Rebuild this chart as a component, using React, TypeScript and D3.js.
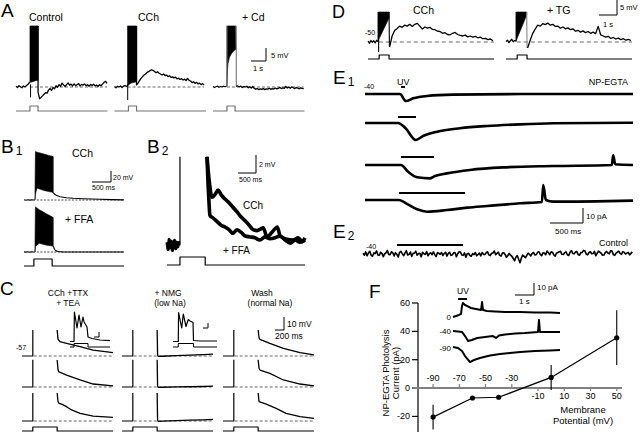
import React from 'react';
import * as d3 from 'd3';

type P = [number, number];
type B = [number, number, number];

const FONT = "'Liberation Sans', Arial, Helvetica, sans-serif";
const ser = (t0: number, dt: number, vals: number[]): P[] => vals.map((v, i) => [t0 + i * dt, v] as P);
const stimPts = (on: number, off: number, end: number, start = 0): P[] => [[start, 0], [on, 0], [on, 1], [off, 1], [off, 0], [end, 0]];

// ===== Panel A (s, mV) =====
const aConditions = ['Control', 'CCh', '+ Cd'];
const aPulse: P = [0.93, 1.47];
const aControlPre = [0.3, -0.2, 0.5, 0.1, -0.3, 0.4, 0.0, 0.6, 1.0, 1.8];
const aControlBurst: B[] = [[0.93, 1.8, 23.5], [1.1, 2.0, 23.5], [1.3, 2.4, 23.5], [1.47, 2.6, 23.5]];
const aControlDown: P = [0.97, -4.0];
const aControlPost = [-2.0, -4.5, -4.0, -3.4, -2.8, -2.2, -2.4, -1.2, -0.6, -1.3, -0.2, -0.7, 0.5, -0.1, 0.9, 0.3, 1.5, 0.8, 0.2, 0.9, 1.6, 0.7, 1.1, 0.4, 1.2, 0.5, 0.9, 1.3, 0.4, 1.0, 0.7, 1.2, 0.5, 0.9, 0.3, 1.0, 0.6, 1.1, 0.4, 0.8, 0.2, 0.9, 0.5, 1.1, 1.8, 2.2, 1.4];
const aCChPre = [0.2, -0.3, 0.3, 0.0, 0.4, -0.2, 0.3, 0.5, 0.2];
const aCChBurst: B[] = [[0.87, 0.5, 23.5], [1.1, 1.5, 23.5], [1.47, 2.0, 23.5]];
const aCChDown: P = [0.88, -5.0];
const aCChPost = [0.8, 1.5, 2.5, 3.3, 4.0, 4.6, 5.0, 5.6, 5.9, 6.3, 6.6, 6.4, 6.0, 5.5, 5.9, 5.3, 5.0, 4.6, 5.0, 4.4, 4.6, 4.0, 4.3, 3.7, 3.9, 3.5, 3.8, 3.1, 3.4, 2.9, 3.2, 2.7, 3.0, 2.5, 3.3, 2.6, 2.3, 1.7, 2.0, 1.4, 1.8, 1.2, 1.5, 0.9, 1.3, 0.8];
const aCdPre = [0.2, -0.2, 0.1, 0.3, -0.1, 0.2, 0.0, 0.3, 0.1, 0.4];
const aCdBurst: B[] = [[0.93, 0.5, 23.5], [0.96, 6, 23.5], [1.0, 9, 23.5], [1.1, 11.5, 23.5], [1.25, 13, 23.5], [1.4, 14, 23.5], [1.53, 14.5, 23.5]];
const aCdPost = [0.2, 0.4, 0.1, 0.3, -0.2, 0.2, 0.0, 0.3, -0.3, 0.1, -0.4, 0.2, -0.5, -0.8, -0.6, -1.0, -0.7, -0.9, -0.6, -1.0, -0.7, -0.8, -0.5, -0.9, -0.6, -0.8, -0.4, -0.7, -0.5, -0.2, -0.6, -0.3, -0.5, 0.2, -0.4, -0.1, -0.5, 0.0, -0.3, -0.6, -0.2, -0.4, -0.7, -0.3, -0.5, -0.6];

// ===== Panel B1 (s, mV) =====
const b1Pulse: P = [0.26, 0.74];
const b1CChPre = [0.5, -0.3, 0.4, -0.2, 0.3, 0.0];
const b1CChBurst: B[] = [[0.29, 0, 20], [0.3, 10, 88], [0.34, 22, 87], [0.45, 19, 85], [0.55, 17, 83], [0.65, 15.5, 81], [0.76, 14, 79]];
const b1CChPost: P[] = [[0.76, 14], [0.8, 11], [0.86, 8], [0.95, 6], [1.12, 4.2], [1.3, 3.2], [1.55, 2.4], [1.8, 1.8], [2.0, 1.3], [2.3, 0.7], [2.63, 0.2]];
const b1FFAPre = [0.3, -0.2, 0.4, -0.3, 0.2, 0.0];
const b1FFABurst: B[] = [[0.29, 0, 20], [0.3, 10, 82], [0.4, 16, 77], [0.5, 14, 73], [0.6, 12.5, 69], [0.7, 11.5, 65.5], [0.76, 11, 63]];
const b1FFAPost: P[] = [[0.76, 11], [0.78, 9], [0.8, 5], [0.84, 2], [0.9, 0.8], [1.0, 0.3], [1.3, 0.1], [2.63, 0]];

// ===== Panel B2 (s, mV) =====
const b2Pulse: P = [0.36, 1.06];
const b2Pre = [0.3, -0.5, 0.6, -0.3, 0.4, -0.6, 0.2, 0.5, -0.4, 0.3, -0.2, 0.4];
const b2CCh: P[] = [[1.11, 9.8], [1.17, 7.2], [1.25, 5.3], [1.33, 5.6], [1.42, 6.1], [1.5, 5.6], [1.61, 5.1], [1.72, 4.7], [1.83, 4.2], [1.94, 3.7], [2.06, 3.1], [2.17, 2.7], [2.28, 2.2], [2.39, 1.7], [2.5, 1.6], [2.61, 1.8], [2.67, 1.9], [2.78, 0.9], [2.89, 1.3], [3.0, 1.8], [3.06, 2.0], [3.14, 1.0], [3.22, 0.8], [3.36, 0.6], [3.5, 0.55], [3.64, 0.8], [3.75, 0.4], [3.83, 0.8]];
const b2FFA: P[] = [[1.11, 9.8], [1.14, 6.7], [1.17, 4.4], [1.19, 3.3], [1.28, 3.0], [1.39, 2.6], [1.5, 2.2], [1.61, 2.0], [1.72, 1.7], [1.83, 1.3], [1.94, 1.7], [2.06, 1.4], [2.17, 1.0], [2.31, 0.9], [2.44, 0.8], [2.58, 0.55], [2.72, 0.9], [2.86, 0.7], [3.0, 0.8], [3.14, 1.0], [3.28, 0.55], [3.42, 0.2], [3.56, 0.55], [3.69, 0.3], [3.83, 0.55]];

// ===== Panel C (s, mV) =====
const cHeaders = [['CCh +TTX', '+ TEA'], ['+ NMG', '(low Na)'], ['Wash', '(normal Na)']];
const cPulse: P = [0.24, 0.78];
const cSpike = [20, 21, 21.5];
const cCol1: P[][] = [
  [[0.78, 20], [0.8, 13], [0.84, 11], [0.99, 9.7], [1.29, 7.2], [1.58, 4.6], [2.02, 2.6]],
  [[0.78, 20.8], [0.8, 13.5], [0.81, 11.8], [0.99, 9.2], [1.29, 5.4], [1.58, 2.3], [2.02, 0.8]],
  [[0.78, 21.5], [0.8, 15], [0.82, 13.6], [0.88, 13], [0.99, 11], [1.1, 8.5], [1.29, 5.9], [1.58, 3.8], [2.02, 2.8]],
];
const cCol2: P[][] = [
  [[0.78, 20], [0.79, 1], [0.8, -0.3], [0.9, -0.2], [1.2, 0.3], [1.5, 0.6], [1.8, 1.0], [2.02, 1.4]],
  [[0.78, 21], [0.79, 1], [0.8, -0.3], [0.9, -0.2], [1.2, 0.1], [1.5, 0.2], [1.8, 0.4], [2.02, 0.6]],
  [[0.78, 21.5], [0.79, 1], [0.8, -0.3], [0.9, -0.1], [1.2, 0.3], [1.5, 0.6], [1.8, 0.9], [2.02, 1.2]],
];
const cCol3: P[][] = [
  [[0.78, 20], [0.8, 14], [0.82, 12.8], [1.04, 9.7], [1.34, 5.9], [1.71, 2.6], [2.02, 0.8]],
  [[0.78, 21], [0.8, 14.5], [0.82, 13], [1.04, 10.5], [1.34, 5.4], [1.71, 2.3], [2.02, 0.8]],
  [[0.78, 21.5], [0.8, 14.9], [0.96, 13], [1.18, 9.7], [1.4, 5.9], [1.71, 3.3], [2.02, 2]],
];
const cInset1: P[] = [[0, 0], [0.1, 0], [0.11, 29.5], [0.175, 13.5], [0.225, 26.5], [0.275, 14.5], [0.325, 24.5], [0.35, 19.5], [0.425, 14.5], [0.45, 4.5], [0.55, 3], [0.75, 1.5], [1.0, 0.8]];
const cInset1Pulse: P = [0.1, 0.45];
const cInset2: P[] = [[0, 0], [0.12, 0], [0.127, 29], [0.198, 13.5], [0.234, 27.5], [0.295, 15], [0.348, 22], [0.386, 20.5], [0.455, 19], [0.466, 1], [0.614, 0.5], [1.0, 0.5]];
const cInset2Pulse: P = [0.12, 0.466];

// ===== Panel D (s, mV) =====
const dConditions = ['CCh', '+ TG'];
const dPulse: P = [0.62, 1.17];
const dCChPre = [0.3, -0.4, 0.5, -0.1, 0.4, -0.3, 0.6, 0.2];
const dCChBurst: B[] = [[0.57, 0.5, 10], [1.17, 8, 10]];
const dCChDown: P = [0.59, -3.3];
const dCChPost = [-1.7, 2.0, 3.8, 4.5, 5.3, 4.9, 5.6, 5.3, 5.9, 5.2, 5.9, 6.2, 5.3, 4.3, 5.0, 4.6, 4.9, 4.2, 4.1, 3.6, 3.5, 2.9, 3.1, 2.5, 2.4, 2.9, 3.2, 2.5, 2.2, 2.0, 2.3, 1.7, 2.0, 1.6, 1.9, 1.4, 1.6, 1.1, 1.2, 0.8, 1.0, 0.4];
const dTGPre = [0.2, 0.6, -0.2, 0.4, 0.9, 0.1, 0.5, 0.3];
const dTGBurst: B[] = [[0.57, 0.5, 10], [1.15, 9, 10]];
const dTGPost = [-2.0, 0.5, 2.8, 4.3, 5.6, 5.3, 6.1, 5.8, 6.3, 5.6, 5.9, 5.2, 5.3, 4.6, 5.0, 4.4, 4.7, 4.1, 4.4, 3.6, 3.9, 3.3, 3.7, 3.1, 3.5, 2.9, 3.3, 2.8, 5.2, 2.4, 2.0, 1.6, 1.9, 1.2, 1.5, 1.0, 1.3, 0.8, 1.1, 0.6, 0.9, 0.5];

// ===== Panel E (s, pA) =====
const eUV: P[] = [[0.545, 0.606], [0.5, 0.773], [0.545, 1.045], [0.515, 1.515]];
const eUVLevel = [4.7, 4, 5.3, 4.7];
const e1Traces: P[][] = [
  [[0, 0], [0.53, 0], [0.62, -4.7], [0.73, -2.9], [0.94, -1.3], [1.33, -0.4], [2.35, 0], [4.06, 0]],
  [[0, 0], [0.5, 0], [0.61, -3.3], [0.77, -11.3], [0.88, -8.7], [1.09, -5.8], [1.44, -3.5], [1.85, -2], [2.35, -0.9], [2.85, -0.2], [4.06, 0.2]],
  [[0, 0], [0.545, 0], [0.65, -4.4], [0.79, -8.2], [0.98, -8.9], [1.06, -7.3], [1.24, -5.6], [1.59, -3.3], [2.09, -1.6], [2.85, -0.7], [3.74, 0], [3.76, 6.7], [3.79, 0.5], [4.06, 0]],
  [[0, 0], [0.515, 0], [0.64, -2.7], [0.79, -6.2], [0.94, -7.8], [1.24, -6.7], [1.55, -5.1], [1.85, -4], [2.35, -2.2], [2.68, -1.3], [2.7, 10], [2.74, 0], [2.85, -1.1], [4.06, -0.4]],
];
const e2UV: P = [0.485, 1.485];
const e2Noise = [
  0.5, -0.8, 1.4, -1.2, 0.6, 1.8, -0.9, -1.5, 0.7, 0.3,
  2.1, -0.6, -0.9, 1.1, 0.4, -1.8, 0.2, 0.7, 2.4, -0.3,
  -0.4, 1.5, 0.8, -1.3, 0.9, -0.2, -2.0, 1.1, 1.7, 0.2,
  -1.1, 0.6, 2.2, -0.7, -0.2, 1.3, -1.6, 0.4, 0.6, 1.9,
  -0.8, 0.3, 0.4, -1.9, 1.2, 0.1, -0.3, 1.6, -1.2, 0.2,
  0.8, -0.5, 1.4, -0.4, -1.7, 0.9, 0.5, -0.2, 1.0, -1.0,
  0.3, 1.2, -1.4, 0.4, 1.1, -0.9, -0.6, 0.8, 0.9, -1.8,
  0.2, 1.5, 1.3, -0.6, -0.9, 0.7, -2.2, 0.1, 0.4, -1.0,
  -1.5, 0.3, -0.4, 1.0, -1.2, -0.3, 0.6, -1.3, 1.0, -0.2,
  -0.4, 0.8, 1.5, -0.6, -1.1, 0.5, 0.7, 2.0, -0.5, 0.4,
  1.2, -0.9, -1.4, 0.6, 0.9, -0.3, -2.2, -1.0, 0.4, -0.8,
  -1.5, -3.0, -4.5, -2.0, -1.0, -3.5, -5.8, -2.8, -0.8, -1.6,
  -2.5, -0.9, 0.6, -0.2, -1.3, 0.4, 1.0, -0.6, -0.4, 1.1,
  1.5, -0.3, -1.1, 0.8, 0.7, -0.5, 2.0, 0.9, -0.5, 1.4,
  1.2, -0.6, -1.4, 0.7, 0.9, 1.5, 1.8, -0.2, -0.3, 0.9,
  1.4, -0.5, -1.0, 1.2, 2.3, 0.4, 0.1, 1.3, 1.6, -0.4,
  -0.8, 0.9, 1.1, 2.4, 2.0, -0.1, -0.6, 1.0, 1.5, 0.2,
  0.3, 1.8, -1.2, 0.4, 1.9, 1.2, 0.5, -0.8, -0.7, 0.9,
  1.7, 0.6, 0.2, 2.2, 2.0, -0.4, -0.9, 0.6, 1.3, 1.9,
  0.4, -0.2, 1.6, 1.1, 0.0, 0.6, 1.1, -0.6, 0.4, 1.4,
];

// ===== Panel F (mV, pA) =====
const fVoltage = [-90, -60, -40, 0, 50];
const fCurrent = [-20.5, -7, -6.5, 7.5, 35.5];
const fError = [8.8, 0, 0, 8.8, 19.3];
const fYTicks = [60, 40, 20, 0, -20];
const fXTicksAbove = [-90, -70, -50, -30];
const fXTicksBelow = [-10, 10, 30, 50];
const fInsetLabels = ['0', '-40', '-90'];
const fInsetUV: P = [0.26, 0.74];
const fInsetTraces: P[][] = [
  [[0, 0], [0.16, 0.8], [0.31, 1.7], [0.42, 2.5], [0.47, 9.2], [0.52, 11.7], [0.63, 10], [0.73, 9.2], [0.94, 7.5], [1.2, 6.7], [1.47, 5.8], [1.52, 12.5], [1.57, 5.8], [1.78, 5], [2.2, 4.6], [2.72, 4.2], [3.5, 4.2], [4.29, 3.75], [5.08, 3.75], [5.6, 3.3]],
  [[0, 0], [0.26, -0.4], [0.47, -0.8], [0.63, -4.2], [0.79, -8.3], [0.99, -7.5], [1.26, -5.8], [1.68, -5], [2.09, -4.2], [2.25, -5.8], [2.41, -3.75], [2.72, -2.9], [3.25, -2.1], [3.77, -1.7], [4.45, -0.8], [4.5, 9.2], [4.55, -0.8], [5.08, -0.8], [5.6, -0.8]],
  [[0, 0.8], [0.26, 0], [0.47, -2.5], [0.63, -6.7], [0.89, -11.7], [1.1, -10], [1.41, -8.3], [1.94, -6.25], [2.46, -5], [2.98, -4.2], [3.51, -3.3], [4.29, -2.5], [5.08, -2.1], [5.6, -1.7]],
];

// ---------- helpers ----------
const mkLine = (x: any, y: any, curve: any = d3.curveLinear) =>
  d3.line<P>().x(d => x(d[0])).y(d => y(d[1])).curve(curve);
const mkArea = (x: any, y: any) =>
  d3.area<B>().x(d => x(d[0])).y0(d => y(d[1])).y1(d => y(d[2]));

const Path = ({ d, w = 1.2, c = '#000', dash, fill = 'none' }: any) => (
  <path d={d} fill={fill} stroke={c} strokeWidth={w} strokeDasharray={dash} strokeLinejoin="round" />
);

const Txt = ({ x, y, s = 10, a = 'start', children, rot, w }: any) => (
  <text x={x} y={y} fontSize={s} textAnchor={a} fontFamily={FONT} fontWeight={w}
    transform={rot ? `rotate(${rot},${x},${y})` : undefined} fill="#000">{children}</text>
);

const Letter = ({ x, y, l, sub, s = 19 }: any) => (
  <g>
    <Txt x={x} y={y} s={s}>{l}</Txt>
    {sub ? <Txt x={x + s * 0.78} y={y + 2} s={12}>{sub}</Txt> : null}
  </g>
);

const ScaleBar = ({ x, y, w, h, lw = 1 }: any) => (
  <path d={`M${x},${y - h}V${y}H${x - w}`} fill="none" stroke="#000" strokeWidth={lw} />
);

// ---------- Panel A ----------
function PanelA() {
  const y = d3.scaleLinear().domain([0, 5]).range([87, 74]);
  const ys = d3.scaleLinear().domain([0, 1]).range([111, 106]);
  const x0s = [16, 114.5, 213];
  const labelX = [29, 138, 242];
  const sets = [
    { pre: ser(0, 0.1, aControlPre), burst: aControlBurst, down: aControlDown, post: ser(1.47, 0.1, aControlPost), edge: '#000' },
    { pre: ser(0, 0.1, aCChPre), burst: aCChBurst, down: aCChDown, post: ser(1.47, 0.1, aCChPost), edge: '#000' },
    { pre: ser(0, 0.1, aCdPre), burst: aCdBurst, down: null, post: ser(1.55, 0.1, aCdPost), edge: '#777' },
  ];
  const xs0 = d3.scaleLinear().domain([0, 6.1]).range([x0s[0], x0s[0] + 91.5]);
  return (
    <g>
      <Letter x={1} y={17} l="A" />
      {sets.map((s, i) => {
        const x = d3.scaleLinear().domain([0, 6.1]).range([x0s[i], x0s[i] + 91.5]);
        const ln = mkLine(x, y);
        const b0 = s.burst[0], b1 = s.burst[s.burst.length - 1];
        const T = s.post[s.post.length - 1][0];
        return (
          <g key={i}>
            <Txt x={labelX[i]} y={21} s={10.5}>{aConditions[i]}</Txt>
            <Path d={mkLine(x, y)([[b0[0], 0], [T, 0]])} w={0.9} c="#555" dash="3,2" />
            <Path d={ln([...s.pre, [b0[0], b0[1]]])} w={1.3} />
            <path d={mkArea(x, y)(s.burst) as string} fill="#000" stroke="#000" strokeWidth={0.6} />
            {s.down ? <Path d={ln([[s.down[0], 1], s.down])} w={1} /> : null}
            {i < 2
              ? <Path d={ln([[b1[0], b1[2]], ...s.post])} w={1.3} />
              : <g>
                  <Path d={ln([[b1[0], b1[2]], [b1[0] + 0.02, b1[1]], [s.post[0][0], s.post[0][1]]])} w={1.1} c={s.edge} />
                  <Path d={ln([[b0[0], b0[2]], [b0[0], 0]])} w={1} c="#777" />
                  <Path d={ln(s.post)} w={1.3} />
                </g>}
            <Path d={mkLine(x, ys)(stimPts(aPulse[0], aPulse[1], 6.1))} w={1.2} c="#707070" />
          </g>
        );
      })}
      <ScaleBar x={266} y={61} w={xs0(1) - xs0(0)} h={y(0) - y(5)} />
      <Txt x={271} y={58} s={7.5}>5 mV</Txt>
      <Txt x={253} y={71} s={7.5}>1 s</Txt>
    </g>
  );
}

// ---------- Panel B ----------
function PanelB() {
  const x = d3.scaleLinear().domain([0, 2.63]).range([24, 124]);
  const yTop = d3.scaleLinear().domain([0, 20]).range([200, 189]);
  const yBot = d3.scaleLinear().domain([0, 20]).range([252, 241]);
  const ys = d3.scaleLinear().domain([0, 1]).range([266, 259]);
  const rows = [
    { y: yTop, pre: ser(0, 0.05, b1CChPre), burst: b1CChBurst, post: b1CChPost },
    { y: yBot, pre: ser(0, 0.05, b1FFAPre), burst: b1FFABurst, post: b1FFAPost },
  ];
  const x2 = d3.scaleLinear().domain([0, 3.83]).range([167, 305]);
  const y2 = d3.scaleLinear().domain([0, 2]).range([245, 227]);
  const ys2 = d3.scaleLinear().domain([0, 1]).range([265, 257]);
  const l2 = mkLine(x2, y2);
  return (
    <g>
      <Letter x={1} y={153} l="B" sub="1" />
      <Txt x={72} y={157} s={10.5}>CCh</Txt>
      <Txt x={65} y={223} s={10.5}>+ FFA</Txt>
      {rows.map((r, i) => {
        const ln = mkLine(x, r.y);
        const b0 = r.burst[0], b1 = r.burst[r.burst.length - 1];
        return (
          <g key={i}>
            <Path d={ln([[0.34, 0], [2.63, 0]])} w={0.9} c="#333" dash="2,1.5" />
            <Path d={ln([...r.pre, [b0[0], b0[1]]])} w={1.1} />
            <path d={mkArea(x, r.y)(r.burst) as string} fill="#000" stroke="#000" strokeWidth={0.6} />
            <Path d={ln([[b1[0], b1[2]], ...r.post])} w={1.1} />
          </g>
        );
      })}
      <Path d={mkLine(x, ys)(stimPts(b1Pulse[0], b1Pulse[1], 2.63))} w={1.2} />
      <ScaleBar x={111} y={182} w={x(0.5) - x(0)} h={yTop(0) - yTop(20)} />
      <Txt x={113} y={180} s={7}>20 mV</Txt>
      <Txt x={92} y={190} s={7}>500 ms</Txt>

      <Letter x={147} y={153} l="B" sub="2" />
      <Path d={l2([...ser(0, 0.03, b2Pre), [0.36, 0], [0.36, 9.8]])} w={1.2} />
      <Path d={l2(ser(0, 0.03, b2Pre))} w={3.2} />
      <Path d={mkLine(x2, y2, d3.curveMonotoneX)(b2CCh)} w={3.6} />
      <Path d={mkLine(x2, y2, d3.curveMonotoneX)(b2FFA)} w={3.6} />
      <Path d={l2([[1.11, 9.8], [1.115, 8]])} w={1.5} />
      <Path d={mkLine(x2, ys2)(stimPts(b2Pulse[0], b2Pulse[1], 3.83))} w={1.2} />
      <ScaleBar x={256} y={173} w={x2(0.5) - x2(0)} h={y2(0) - y2(2)} />
      <Txt x={259} y={167} s={7}>2 mV</Txt>
      <Txt x={239} y={182} s={7}>500 ms</Txt>
      <Txt x={243} y={209} s={10}>CCh</Txt>
      <Txt x={223} y={254} s={10}>+ FFA</Txt>
    </g>
  );
}

// ---------- Panel C ----------
function PanelC() {
  const x0s = [22, 122, 223];
  const bases = [356, 387, 421];
  const cols = [cCol1, cCol2, cCol3];
  const headX = [[68, 68], [168, 170], [262, 270]];
  const ys = d3.scaleLinear().domain([0, 1]).range([431, 427]);
  const xRef = d3.scaleLinear().domain([0, 2.02]).range([0, 91]);
  const yRef = d3.scaleLinear().domain([0, 10]).range([0, 13]);
  const ix1 = d3.scaleLinear().domain([0, 1]).range([70, 110]);
  const ix2 = d3.scaleLinear().domain([0, 1]).range([173, 217]);
  const iy = d3.scaleLinear().domain([0, 30]).range([341.5, 311.5]);
  const iys = d3.scaleLinear().domain([0, 1]).range([347, 343.5]);
  return (
    <g>
      <Letter x={0} y={295} l="C" />
      {cHeaders.map((h, i) => (
        <g key={i}>
          <Txt x={headX[i][0]} y={296} s={8.5} a="middle">{h[0]}</Txt>
          <Txt x={headX[i][1]} y={305.5} s={8.5} a="middle">{h[1]}</Txt>
        </g>
      ))}
      <Txt x={16} y={350} s={7}>-57</Txt>
      {x0s.map((x0, c) => {
        const x = d3.scaleLinear().domain([0, 2.02]).range([x0, x0 + 91]);
        return (
          <g key={c}>
            {bases.map((b, r) => {
              const y = d3.scaleLinear().domain([0, 10]).range([b, b - 13]);
              const ln = mkLine(x, y);
              return (
                <g key={r}>
                  <Path d={ln([[0.26, 0], [2.02, 0]])} w={0.9} c="#555" dash="3,2" />
                  <Path d={ln([[0, 0], [cPulse[0], 0], [cPulse[0], cSpike[r]]])} w={1.2} />
                  <Path d={ln(cols[c][r])} w={1.3} />
                </g>
              );
            })}
            <Path d={mkLine(x, ys)(stimPts(cPulse[0], cPulse[1], 2.02))} w={1.2} />
          </g>
        );
      })}
      <Path d={mkLine(ix1, iy)(cInset1)} w={1.2} />
      <Path d={mkLine(ix1, iys)(stimPts(cInset1Pulse[0], cInset1Pulse[1], 1))} w={1} />
      <ScaleBar x={99} y={337} w={5} h={5} lw={1} />
      <Path d={mkLine(ix2, iy)(cInset2)} w={1.2} />
      <Path d={mkLine(ix2, iys)(stimPts(cInset2Pulse[0], cInset2Pulse[1], 1))} w={1} />
      <ScaleBar x={208} y={328} w={5} h={5} lw={1} />
      <ScaleBar x={284} y={330} w={xRef(0.2) - xRef(0)} h={yRef(10) - yRef(0)} />
      <Txt x={287} y={327} s={8.5}>10 mV</Txt>
      <Txt x={275} y={339} s={8.5}>200 ms</Txt>
    </g>
  );
}

// ---------- Panel D ----------
function PanelD() {
  const y = d3.scaleLinear().domain([0, 5]).range([42, 27]);
  const ys = d3.scaleLinear().domain([0, 1]).range([59, 55]);
  const x0s = [368, 506];
  const labelX = [413, 547];
  const sets = [
    { pre: ser(0, 0.08, dCChPre), burst: dCChBurst, down: dCChDown, post: ser(1.2, 0.14, dCChPost), edge: '#000' },
    { pre: ser(0, 0.08, dTGPre), burst: dTGBurst, down: null, post: ser(1.2, 0.14, dTGPost), edge: '#888' },
  ];
  const xr = d3.scaleLinear().domain([0, 7]).range([0, 126]);
  return (
    <g>
      <Letter x={332} y={18} l="D" s={18} />
      <Txt x={365} y={35} s={7}>-50</Txt>
      {sets.map((s, i) => {
        const x = d3.scaleLinear().domain([0, 7]).range([x0s[i], x0s[i] + 126]);
        const ln = mkLine(x, y);
        const b0 = s.burst[0], b1 = s.burst[s.burst.length - 1];
        return (
          <g key={i}>
            <Txt x={labelX[i]} y={14} s={10.5}>{dConditions[i]}</Txt>
            <Path d={ln([[0.6, 0], [7, 0]])} w={0.9} c="#555" dash="4,3" />
            <Path d={ln([...s.pre, [b0[0], b0[1]]])} w={1.3} />
            <path d={mkArea(x, y)(s.burst) as string} fill="#000" stroke="#000" strokeWidth={0.6} />
            <Path d={ln([[b0[0], b0[1]], [b0[0], b0[2]]])} w={1.2} />
            {s.down ? <Path d={ln([[s.down[0], 1], s.down])} w={1.1} /> : null}
            <Path d={ln([[b1[0], b1[2]], [b1[0] + 0.02, s.post[0][1]]])} w={1.1} c={s.edge} />
            <Path d={ln(s.post)} w={1.3} />
            <Path d={mkLine(x, ys)(stimPts(dPulse[0], dPulse[1], 7))} w={1.2} />
          </g>
        );
      })}
      <ScaleBar x={617} y={15} w={xr(1) - xr(0)} h={y(0) - y(5)} />
      <Txt x={620} y={10} s={7.5}>5 mV</Txt>
      <Txt x={603} y={27} s={7.5}>1 s</Txt>
    </g>
  );
}

// ---------- Panel E ----------
function PanelE() {
  const x = d3.scaleLinear().domain([0, 4.06]).range([365, 633]);
  const bases = [94, 123, 165, 200];
  const yRef = d3.scaleLinear().domain([0, 10]).range([0, 15]);
  const y2 = d3.scaleLinear().domain([0, 10]).range([254, 239]);
  return (
    <g>
      <Letter x={333} y={84} l="E" sub="1" />
      <Txt x={397} y={85} s={9}>UV</Txt>
      <Txt x={364} y={89} s={7}>-40</Txt>
      <Txt x={628} y={85} s={9} a="end">NP-EGTA</Txt>
      {bases.map((b, i) => {
        const y = d3.scaleLinear().domain([0, 10]).range([b, b - 15]);
        return (
          <g key={i}>
            <Path d={mkLine(x, y)([[eUV[i][0], eUVLevel[i]], [eUV[i][1], eUVLevel[i]]])} w={2} />
            <Path d={mkLine(x, y, d3.curveMonotoneX)(e1Traces[i])} w={2.6} />
          </g>
        );
      })}
      <ScaleBar x={583} y={223} w={x(0.5) - x(0)} h={yRef(10) - yRef(0)} />
      <Txt x={586} y={219} s={8}>10 pA</Txt>
      <Txt x={555} y={234} s={8}>500 ms</Txt>

      <Letter x={333} y={238} l="E" sub="2" />
      <Txt x={366} y={249} s={7}>-40</Txt>
      <Txt x={628} y={246} s={9} a="end">Control</Txt>
      <Path d={mkLine(x, y2)([[e2UV[0], 6], [e2UV[1], 6]])} w={2} />
      <Path d={mkLine(x, y2)(ser(-0.03, 0.0205, e2Noise))} w={1.6} />
    </g>
  );
}

// ---------- Panel F ----------
function PanelF() {
  const x = d3.scaleLinear().domain([-101.5, 54]).range([418, 622]);
  const y = d3.scaleLinear().domain([-31, 60]).range([432, 303]);
  const y0 = y(0);
  const pts: P[] = fVoltage.map((v, i) => [v, fCurrent[i]]);
  const ix = d3.scaleLinear().domain([0, 5.6]).range([453, 560]);
  const insetBases = [317, 331, 348];
  const iyRef = d3.scaleLinear().domain([0, 10]).range([0, 12]);
  return (
    <g>
      <Letter x={369} y={298} l="F" />
      <line x1={418} x2={418} y1={y(60)} y2={432} stroke="#000" strokeWidth={1.2} />
      {fYTicks.map(t => (
        <g key={t}>
          <line x1={412} x2={418} y1={y(t)} y2={y(t)} stroke="#000" strokeWidth={1.2} />
          <Txt x={410} y={y(t) + 3} s={9} a="end">{t}</Txt>
        </g>
      ))}
      <line x1={413} x2={622} y1={y0} y2={y0} stroke="#808080" strokeWidth={2} />
      {fXTicksAbove.map(t => (
        <g key={t}>
          <line x1={x(t)} x2={x(t)} y1={y0} y2={y0 - 4} stroke="#808080" strokeWidth={1.2} />
          <Txt x={x(t)} y={y0 - 7} s={9} a="middle">{t}</Txt>
        </g>
      ))}
      {fXTicksBelow.map(t => (
        <g key={t}>
          <line x1={x(t)} x2={x(t)} y1={y0} y2={y0 + 3} stroke="#808080" strokeWidth={1.2} />
          <Txt x={x(t)} y={y0 + 11} s={9} a="middle">{t}</Txt>
        </g>
      ))}
      <Txt x={583} y={413} s={9.5} a="middle">Membrane</Txt>
      <Txt x={583} y={424} s={9.5} a="middle">Potential (mV)</Txt>
      <Txt x={389} y={373} s={9.5} a="middle" rot={-90}>NP-EGTA Photolysis</Txt>
      <Txt x={399} y={373} s={9.5} a="middle" rot={-90}>Current (pA)</Txt>
      {fVoltage.map((v, i) => fError[i] > 0 ? (
        <line key={'e' + i} x1={x(v)} x2={x(v)} y1={y(fCurrent[i] - fError[i])} y2={y(fCurrent[i] + fError[i])} stroke="#000" strokeWidth={1.1} />
      ) : null)}
      <Path d={mkLine(x, y)(pts)} w={1.2} />
      {pts.map((p, i) => <circle key={i} cx={x(p[0])} cy={y(p[1])} r={2.6} fill="#000" />)}
      <Txt x={463} y={294} s={8.5} a="middle">UV</Txt>
      <line x1={ix(fInsetUV[0])} x2={ix(fInsetUV[1])} y1={299} y2={299} stroke="#000" strokeWidth={2} />
      {fInsetTraces.map((tr, i) => {
        const iy = d3.scaleLinear().domain([0, 10]).range([insetBases[i], insetBases[i] - 12]);
        return (
          <g key={i}>
            <Txt x={451} y={insetBases[i] + 3} s={8} a="end">{fInsetLabels[i]}</Txt>
            <Path d={mkLine(ix, iy)(tr)} w={2} />
          </g>
        );
      })}
      <ScaleBar x={534} y={295} w={ix(1) - ix(0)} h={iyRef(10) - iyRef(0)} />
      <Txt x={537} y={290} s={8}>10 pA</Txt>
      <Txt x={519} y={304} s={8}>1 s</Txt>
    </g>
  );
}

export default function App() {
  return (
    <svg width={640} height={432} viewBox="0 0 640 432"
      style={{ position: 'absolute', left: 0, top: 0, background: '#fff' }}>
      <rect x={0} y={0} width={640} height={432} fill="#fff" />
      <PanelA />
      <PanelB />
      <PanelC />
      <PanelD />
      <PanelE />
      <PanelF />
    </svg>
  );
}
